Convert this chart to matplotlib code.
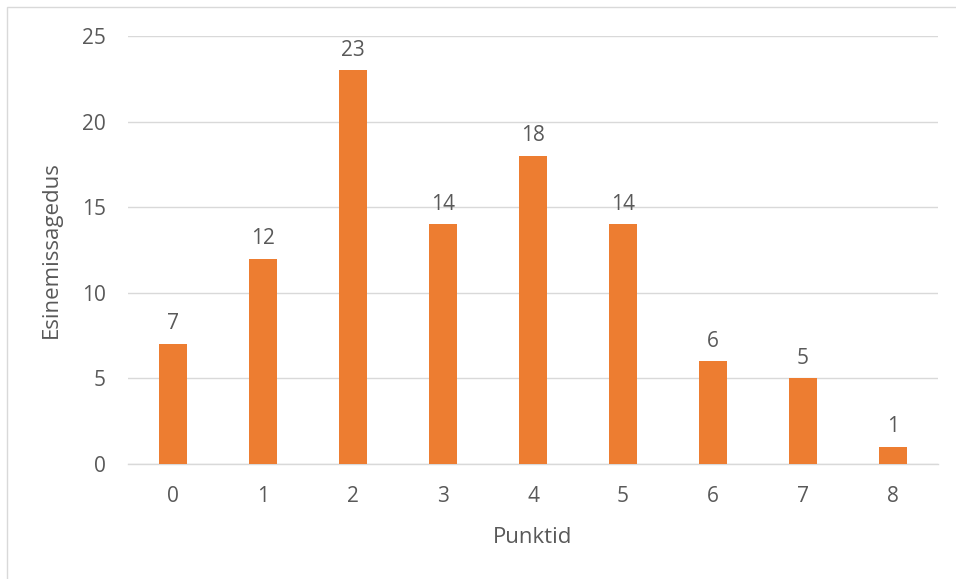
import matplotlib.pyplot as plt
from matplotlib.patches import Rectangle

categories = ['0', '1', '2', '3', '4', '5', '6', '7', '8']
values = [7, 12, 23, 14, 18, 14, 6, 5, 1]

text_color = '#595959'
bar_color = '#ED7D31'
grid_color = '#D9D9D9'

plt.rcParams['font.family'] = ['Open Sans', 'DejaVu Sans']

fig = plt.figure(figsize=(9.56, 5.79), dpi=100)
ax = fig.add_axes([128 / 956, 1 - 464 / 579, 810 / 956, 428 / 579])

x = list(range(len(categories)))
bars = ax.bar(x, values, width=0.32, color=bar_color, zorder=3)
for xi, v in zip(x, values):
    ax.annotate(str(v), (xi, v), xytext=(0, 7), textcoords='offset points',
                ha='center', va='bottom', fontsize=15, color=text_color)

ax.set_xlim(-0.5, len(categories) - 0.5)
ax.set_ylim(0, 25)
ax.set_yticks([0, 5, 10, 15, 20, 25])
ax.set_xticks(x)
ax.set_xticklabels(categories)
ax.yaxis.grid(True, color=grid_color, linewidth=1, zorder=0)
ax.tick_params(axis='both', length=0, labelsize=15, labelcolor=text_color)
ax.tick_params(axis='y', pad=16)
ax.tick_params(axis='x', pad=16)

for side in ['top', 'right', 'left']:
    ax.spines[side].set_visible(False)
ax.spines['bottom'].set_color(grid_color)
ax.spines['bottom'].set_linewidth(1)

ax.set_xlabel('Punktid', fontsize=16, color=text_color, labelpad=14)
ax.set_ylabel('Esinemissagedus', fontsize=16, color=text_color, labelpad=14)

# outer chart border (only left and top visible)
fig.patches.append(Rectangle((7 / 956, -0.1), 1.2, 1 - 7 / 579 + 0.1,
                             transform=fig.transFigure, fill=False,
                             edgecolor='#D9D9D9', linewidth=1))

fig.savefig('out.png', dpi=100)
